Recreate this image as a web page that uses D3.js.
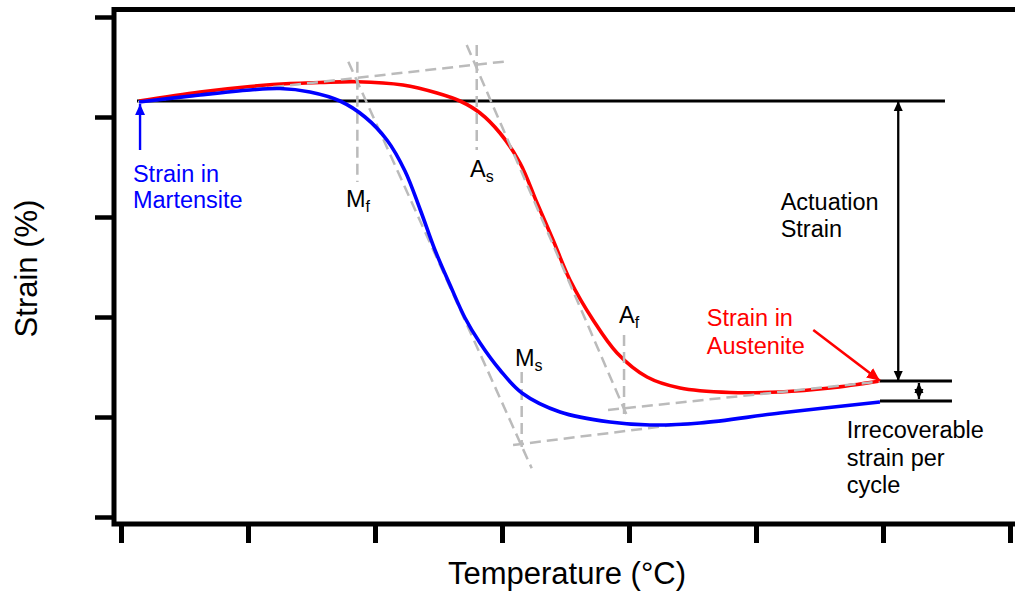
<!DOCTYPE html>
<html>
<head>
<meta charset="utf-8">
<script src="https://cdn.jsdelivr.net/npm/d3@7"></script>
<style>
  body { margin: 0; background: #fff; }
  text { font-family: "Liberation Sans", Arial, sans-serif; }
</style>
</head>
<body>
<div id="chart"></div>
<script>
// tick values (no labels on this chart)
var tempTicks = [0, 1, 2, 3, 4, 5, 6, 7];
var strainTicks = [0, 1, 2, 3, 4, 5];

// cooling curve (martensite, blue)
var coolT = [0.142, 0.622, 1.016, 1.252, 1.488, 1.724, 1.921, 2.094, 2.236, 2.354, 2.472, 2.591, 2.709, 2.827, 2.984, 3.157, 3.457, 3.850, 4.165, 4.559, 5.189, 5.976];
var coolS = [4.15, 4.22, 4.27, 4.285, 4.25, 4.16, 4.00, 3.77, 3.46, 3.08, 2.67, 2.32, 1.99, 1.74, 1.47, 1.24, 1.05, 0.95, 0.92, 0.94, 1.04, 1.15];

// heating curve (austenite, red)
var heatT = [0.142, 0.622, 1.016, 1.331, 1.567, 1.858, 2.220, 2.488, 2.669, 2.827, 2.984, 3.142, 3.276, 3.402, 3.535, 3.717, 3.906, 4.142, 4.402, 4.795, 5.189, 5.583, 5.976];
var heatS = [4.16, 4.25, 4.305, 4.335, 4.345, 4.353, 4.32, 4.24, 4.16, 4.04, 3.84, 3.54, 3.14, 2.77, 2.37, 1.97, 1.64, 1.40, 1.29, 1.245, 1.25, 1.29, 1.36];

// dashed construction lines [T, S] pairs
var tanTop = [[0.134, 4.15], [3.024, 4.555]];
var tanCool = [[1.790, 4.553], [3.234, 0.487]];
var tanHeat = [[2.722, 4.72], [3.992, 0.99]];
var tanHeatLow = [[3.835, 1.07], [5.976, 1.355]];
var tanCoolLow = [[3.087, 0.72], [4.480, 0.94]];
var vMf = [[1.861, 4.553], [1.861, 3.35]];
var vAs = [[2.801, 4.72], [2.801, 3.67]];
var vAf = [[3.961, 1.82], [3.961, 0.99]];
var vMs = [[3.155, 1.45], [3.155, 0.70]];

// reference levels
var startStrain = 4.16;
var endHeat = 1.36;
var endCool = 1.16;
var refStartT = 0.126, refEndT = 6.488, capStartT = 5.976, capEndT = 6.543;
var actuationT = 6.120, irrecT = 6.283;

function init() {
    var w = 1015;
    var h = 593;
    var frame = { left: 114, top: 9.5, bottom: 524, right: 1015 };

    var xScale = d3.scaleLinear().domain([0, 7]).range([121, 1010]);
    var yScale = d3.scaleLinear().domain([0, 5]).range([517, 17]);

    var svg = d3.select("#chart").append("svg")
        .attr("width", w).attr("height", h);

    var defs = svg.append("defs");
    [["arrBlack", "#000", 10], ["arrBlue", "#0000ff", 11], ["arrRed", "#ff0000", 13]].forEach(function(m) {
        defs.append("marker")
            .attr("id", m[0])
            .attr("viewBox", "0 -5 10 10")
            .attr("refX", 10).attr("refY", 0)
            .attr("markerWidth", m[2]).attr("markerHeight", m[2])
            .attr("markerUnits", "userSpaceOnUse")
            .attr("orient", "auto-start-reverse")
            .append("path").attr("d", "M0,-4.5L10,0L0,4.5Z").attr("fill", m[1]);
    });

    // axes
    var xAxis = d3.axisBottom(xScale).tickValues(tempTicks).tickSize(19).tickFormat("");
    var yAxis = d3.axisLeft(yScale).tickValues(strainTicks).tickSize(17).tickFormat("");

    var gx = svg.append("g").attr("transform", "translate(0," + frame.bottom + ")").call(xAxis);
    var gy = svg.append("g").attr("transform", "translate(" + (frame.left - 2) + ",0)").call(yAxis);
    gx.select(".domain").remove();
    gy.select(".domain").remove();
    gx.selectAll(".tick line").attr("stroke", "#000").attr("stroke-width", 5);
    gy.selectAll(".tick line").attr("stroke", "#000").attr("stroke-width", 4.5);

    // frame
    svg.append("path")
        .attr("d", "M" + frame.right + "," + frame.top + "H" + frame.left + "V" + frame.bottom + "H" + frame.right)
        .attr("fill", "none").attr("stroke", "#000").attr("stroke-width", 5)
        .attr("stroke-linecap", "square");

    var pt = d3.line().x(function(d) { return xScale(d[0]); }).y(function(d) { return yScale(d[1]); });

    // black reference lines
    function blackLine(data, w2) {
        return svg.append("path").datum(data).attr("d", pt)
            .attr("fill", "none").attr("stroke", "#000").attr("stroke-width", w2 || 2.8);
    }
    blackLine([[refStartT, startStrain], [refEndT, startStrain]]);
    blackLine([[capStartT, endHeat], [capEndT, endHeat]]);
    blackLine([[capStartT, endCool], [capEndT, endCool]]);
    blackLine([[actuationT, startStrain], [actuationT, endHeat]], 2.3)
        .attr("marker-start", "url(#arrBlack)").attr("marker-end", "url(#arrBlack)");
    blackLine([[irrecT, endHeat - 0.02], [irrecT, endCool + 0.02]], 2.3)
        .attr("marker-start", "url(#arrBlack)").attr("marker-end", "url(#arrBlack)");

    var curve = d3.line()
        .x(function(d) { return xScale(d[0]); })
        .y(function(d) { return yScale(d[1]); })
        .curve(d3.curveCatmullRom);

    var heat = heatT.map(function(t, i) { return [t, heatS[i]]; });
    var cool = coolT.map(function(t, i) { return [t, coolS[i]]; });

    svg.append("path").datum(heat).attr("d", curve)
        .attr("fill", "none").attr("stroke", "#ff0000").attr("stroke-width", 3.6);

    // dashed construction lines
    [tanTop, tanCool, tanHeat, tanHeatLow, tanCoolLow, vMf, vAs, vAf, vMs].forEach(function(seg) {
        svg.append("path").datum(seg).attr("d", pt)
            .attr("fill", "none").attr("stroke", "#bbbbbb")
            .attr("stroke-width", 2.5).attr("stroke-dasharray", "11,6");
    });

    svg.append("path").datum(cool).attr("d", curve)
        .attr("fill", "none").attr("stroke", "#0000ff").attr("stroke-width", 3.6);

    // pointer arrows
    svg.append("path").datum([[0.150, 3.67], [0.150, 4.13]]).attr("d", pt)
        .attr("stroke", "#0000ff").attr("stroke-width", 2.4).attr("marker-end", "url(#arrBlue)");
    svg.append("path").datum([[5.451, 1.87], [5.976, 1.363]]).attr("d", pt)
        .attr("stroke", "#ff0000").attr("stroke-width", 2.6).attr("marker-end", "url(#arrRed)");

    // text labels
    function label(lines, t, s, color, gap) {
        var txt = svg.append("text")
            .attr("x", xScale(t)).attr("y", yScale(s))
            .attr("font-size", 23.5).attr("fill", color);
        lines.forEach(function(l, i) {
            txt.append("tspan").attr("x", xScale(t)).attr("dy", i === 0 ? 0 : gap).text(l);
        });
    }
    label(["Strain in", "Martensite"], 0.094, 3.353, "#0000ff", 26.5);
    label(["Actuation", "Strain"], 5.194, 3.07, "#000", 27.3);
    label(["Strain in", "Austenite"], 4.612, 1.91, "#ff0000", 28);
    label(["Irrecoverable", "strain per", "cycle"], 5.714, 0.793, "#000", 27.8);

    function subLabel(main, sub, t, s) {
        var txt = svg.append("text")
            .attr("x", xScale(t)).attr("y", yScale(s))
            .attr("font-size", 23.5).attr("fill", "#000");
        txt.append("tspan").text(main);
        txt.append("tspan").attr("font-size", 16).attr("dy", 5).text(sub);
    }
    subLabel("M", "f", 1.772, 3.097);
    subLabel("A", "s", 2.748, 3.403);
    subLabel("M", "s", 3.102, 1.51);
    subLabel("A", "f", 3.921, 1.937);

    // axis titles
    svg.append("text")
        .attr("x", 567).attr("y", 584)
        .attr("text-anchor", "middle").attr("font-size", 31)
        .text("Temperature (°C)");
    svg.append("text")
        .attr("transform", "translate(37,268.5) rotate(-90)")
        .attr("text-anchor", "middle").attr("font-size", 31)
        .text("Strain (%)");
}
window.onload = init;
</script>
</body>
</html>
